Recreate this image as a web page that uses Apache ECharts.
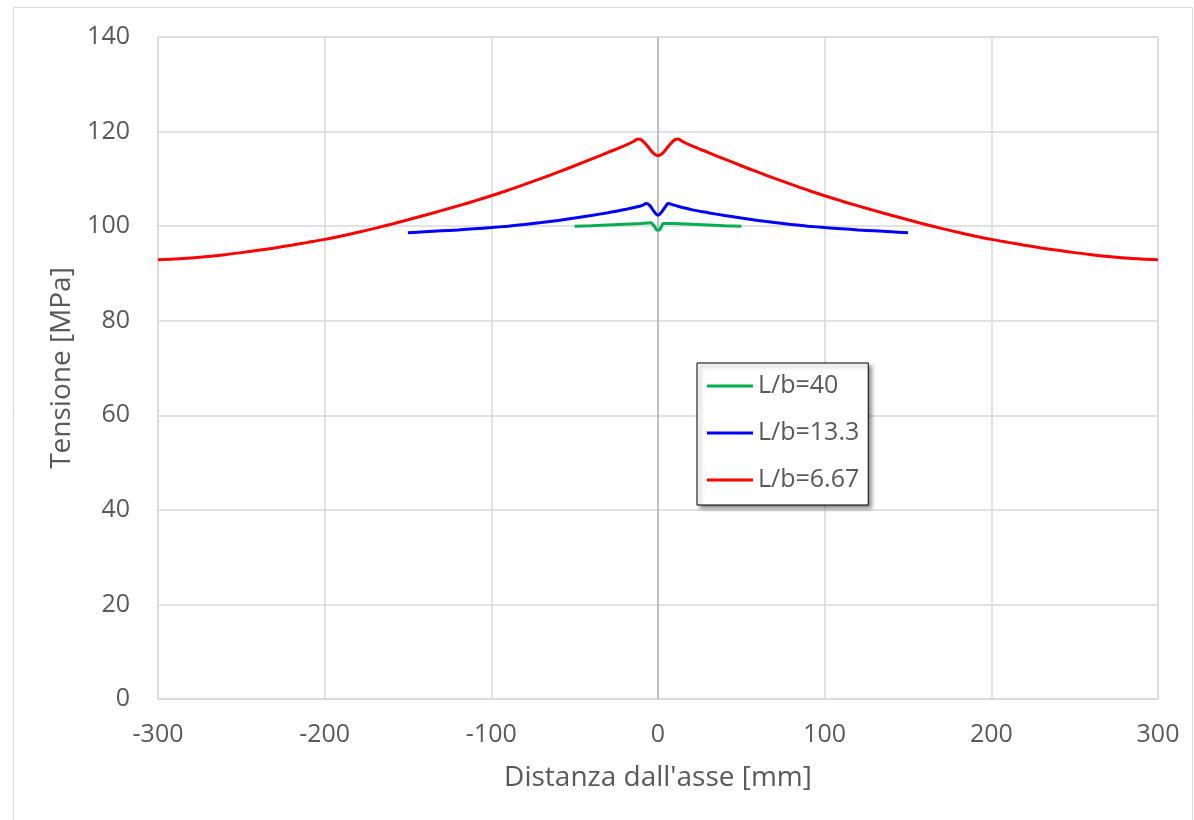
<!DOCTYPE html>
<html>
<head>
<meta charset="utf-8">
<script src="https://cdn.jsdelivr.net/npm/echarts@6/dist/echarts.min.js"></script>
<style>
html,body{margin:0;padding:0;background:#fff;}
#chart{width:1194px;height:820px;}
</style>
</head>
<body>
<div id="chart"></div>
<script>
const xTicks = [-300, -200, -100, 0, 100, 200, 300];
const yTicks = [0, 20, 40, 60, 80, 100, 120, 140];
const seriesNames = ['L/b=40', 'L/b=13.3', 'L/b=6.67'];

const greenX = [-50,-40,-30,-20,-10,-4,-3,-2,-1,0,1,2,3,4,10,20,30,40,50];
const greenY = [100.0,100.1,100.25,100.4,100.55,100.7,100.55,99.9,99.2,98.9,99.2,99.9,100.55,100.7,100.55,100.4,100.25,100.1,100.0];

const blueX = [-150,-140,-130,-120,-110,-100,-90,-80,-70,-60,-50,-40,-30,-20,-10,-7,-5,-3,-1,0,1,3,5,6,10,20,30,40,50,60,70,80,90,100,110,120,130,140,150];
const blueY = [98.6,98.8,99.0,99.2,99.45,99.7,100.0,100.35,100.75,101.2,101.7,102.25,102.85,103.5,104.3,104.8,104.4,103.4,102.5,102.3,102.5,103.4,104.4,104.8,104.4,103.5,102.85,102.25,101.7,101.2,100.75,100.35,100.0,99.7,99.45,99.2,99.0,98.8,98.6];

const redX = [-300,-290,-280,-270,-260,-250,-240,-230,-220,-210,-200,-190,-180,-170,-160,-150,-140,-130,-120,-110,-100,-90,-80,-70,-60,-50,-40,-30,-20,-15,-12,-10,-8,-6,-4,-2,0,2,4,6,8,10,12,15,20,30,40,50,60,70,80,90,100,110,120,130,140,150,160,170,180,190,200,210,220,230,240,250,260,270,280,290,300];
const redY = [92.9,93.05,93.27,93.57,93.95,94.4,94.88,95.4,95.97,96.57,97.2,97.92,98.7,99.53,100.41,101.34,102.3,103.28,104.28,105.33,106.43,107.6,108.82,110.09,111.41,112.77,114.17,115.59,117.03,117.85,118.45,118.25,117.6,116.8,115.9,115.2,114.9,115.2,115.9,116.8,117.6,118.25,118.45,117.85,117.03,115.59,114.17,112.77,111.41,110.09,108.82,107.6,106.43,105.33,104.28,103.28,102.3,101.34,100.41,99.53,98.7,97.92,97.2,96.57,95.97,95.4,94.88,94.4,93.95,93.57,93.27,93.05,92.9];

function pairs(xs, ys){ return xs.map((x,i)=>[x, ys[i]]); }

const FONT = '"Open Sans", sans-serif';
const TXT = '#595959';

const chart = echarts.init(document.getElementById('chart'), null, {renderer:'canvas'});
chart.setOption({
  animation: false,
  backgroundColor: '#fff',
  graphic: [{
    type: 'rect', shape: {x: 13.5, y: 7.5, width: 1179, height: 830},
    style: {fill: 'none', stroke: '#d9d9d9', lineWidth: 1}, silent: true, z: -10
  }],
  grid: {left: 158, right: 36, top: 37, bottom: 121, show: true, borderColor: '#d9d9d9', borderWidth: 1, backgroundColor: 'transparent'},
  legend: {
    orient: 'vertical', left: 697, top: 363,
    data: seriesNames,
    icon: 'rect', itemWidth: 46, itemHeight: 3, itemGap: 17,
    padding: [8, 9, 10, 10],
    backgroundColor: '#fff', borderColor: '#000', borderWidth: 1,
    shadowBlur: 4, shadowColor: 'rgba(0,0,0,0.45)', shadowOffsetX: 3, shadowOffsetY: 3,
    textStyle: {fontFamily: FONT, fontSize: 25, color: TXT, lineHeight: 30}
  },
  xAxis: {
    type: 'value', min: xTicks[0], max: xTicks[xTicks.length-1], interval: 100,
    name: "Distanza dall'asse [mm]", nameLocation: 'middle', nameGap: 65,
    nameTextStyle: {fontFamily: FONT, fontSize: 28, color: TXT},
    axisLine: {show: true, onZero: false, lineStyle: {color: '#d9d9d9', width: 1}},
    axisTick: {show: false},
    axisLabel: {fontFamily: FONT, fontSize: 25, color: TXT, margin: 23},
    splitLine: {show: true, lineStyle: {color: '#d9d9d9', width: 1.5}}
  },
  yAxis: {
    type: 'value', min: yTicks[0], max: yTicks[yTicks.length-1], interval: 20,
    name: 'Tensione [MPa]', nameLocation: 'middle', nameGap: 79,
    nameTextStyle: {fontFamily: FONT, fontSize: 28, color: TXT},
    axisLine: {show: false},
    axisTick: {show: false},
    axisLabel: {fontFamily: FONT, fontSize: 25, color: TXT, margin: 28},
    splitLine: {show: true, lineStyle: {color: '#d9d9d9', width: 1.5}}
  },
  series: [
    {name: seriesNames[0], type: 'line', data: pairs(greenX, greenY), showSymbol: false, symbol: 'none',
     smooth: false, lineStyle: {color: '#00b050', width: 3}, itemStyle: {color: '#00b050'}, z: 3},
    {name: seriesNames[1], type: 'line', data: pairs(blueX, blueY), showSymbol: false, symbol: 'none',
     smooth: 0.3, lineStyle: {color: '#0000ff', width: 3}, itemStyle: {color: '#0000ff'}, z: 3},
    {name: seriesNames[2], type: 'line', data: pairs(redX, redY), showSymbol: false, symbol: 'none',
     smooth: 0.35, lineStyle: {color: '#ff0000', width: 3}, itemStyle: {color: '#ff0000'}, z: 3,
     markLine: {silent: true, symbol: 'none', label: {show: false}, z: 1,
       lineStyle: {color: '#bfbfbf', width: 2, type: 'solid'}, data: [{xAxis: 0}]}}
  ]
});
</script>
</body>
</html>
